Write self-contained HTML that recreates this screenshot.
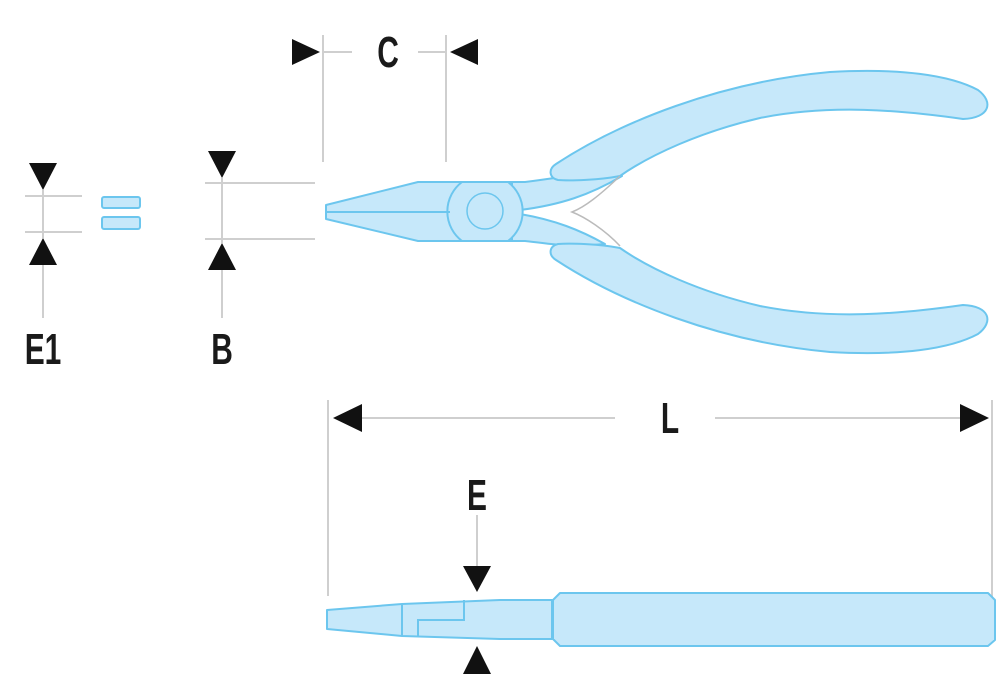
<!DOCTYPE html>
<html><head><style>
html,body{margin:0;padding:0;background:#fff;width:1000px;height:676px;overflow:hidden}
svg text{font-family:"Liberation Sans",sans-serif;font-size:44px;font-weight:bold;fill:#1a1a1a}
</style></head><body>
<svg width="1000" height="676" viewBox="0 0 1000 676" xmlns="http://www.w3.org/2000/svg">
<g stroke="#cfcfcf" stroke-width="2" fill="none">
<line x1="323" y1="35" x2="323" y2="162"/><line x1="446" y1="35" x2="446" y2="162"/>
<line x1="323" y1="52" x2="352" y2="52"/><line x1="418" y1="52" x2="446" y2="52"/>
<line x1="205" y1="183" x2="315" y2="183"/><line x1="205" y1="239" x2="315" y2="239"/>
<line x1="222" y1="178" x2="222" y2="243"/><line x1="222" y1="270" x2="222" y2="318"/>
<line x1="25" y1="196" x2="82" y2="196"/><line x1="25" y1="232" x2="82" y2="232"/>
<line x1="43" y1="190" x2="43" y2="238"/><line x1="43" y1="265" x2="43" y2="318"/>
<line x1="328" y1="400" x2="328" y2="596"/><line x1="992" y1="400" x2="992" y2="632"/>
<line x1="362" y1="418" x2="615" y2="418"/><line x1="715" y1="418" x2="960" y2="418"/>
<line x1="477" y1="515" x2="477" y2="566"/>
</g>
<g fill="#111">
<polygon points="292,39 320,52 292,65"/><polygon points="478,39 450,52 478,65"/>
<polygon points="208,151 236,151 222,178"/><polygon points="208,270 236,270 222,243"/>
<polygon points="29,163 57,163 43,190"/><polygon points="29,265 57,265 43,238"/>
<polygon points="362,404 362,432 333,418"/><polygon points="960,404 960,432 989,418"/>
<polygon points="463,566 491,566 477,592"/><polygon points="463,674 491,674 477,646"/>
</g>
<g transform="translate(388,67) scale(0.68,1)"><text text-anchor="middle" x="0" y="0">C</text></g>
<g transform="translate(222,364) scale(0.68,1)"><text text-anchor="middle" x="0" y="0">B</text></g>
<g transform="translate(43,364) scale(0.68,1)"><text text-anchor="middle" x="0" y="0">E1</text></g>
<g transform="translate(670,433) scale(0.68,1)"><text text-anchor="middle" x="0" y="0">L</text></g>
<g transform="translate(477,510) scale(0.68,1)"><text text-anchor="middle" x="0" y="0">E</text></g>

<g fill="#c6e8fa" stroke="#6cc6ee" stroke-width="2" stroke-linejoin="round">
<rect x="102" y="197" width="38" height="11" rx="2"/><rect x="102" y="217" width="38" height="12" rx="2"/>
<!-- necks -->
<path d="M505,182 L525,182 C545,180 560,176 580,176 L622,176 C590,195 560,205 520,210 L505,210 Z"/>
<path d="M505,241 L525,241 C545,243 560,246 580,246 L605,244 C580,230 555,220 520,214 L505,214 Z"/>
<!-- handles -->
<path d="M556,164 C620,122 720,82 830,72 C900,68 950,75 978,90 C994,102 990,118 963,119 C900,110 830,104 760,118 C700,132 650,155 620,176 C600,180 570,181 558,180 C549,178 548,169 556,164 Z"/>
<path d="M556,260 C620,302 720,342 830,352 C900,356 950,349 978,334 C994,322 990,306 963,305 C900,314 830,320 760,306 C700,292 650,269 620,248 C600,244 570,243 558,244 C549,246 548,255 556,260 Z"/>
<!-- jaw -->
<path d="M326,205 L418,182 L512,182 L512,241 L418,241 L326,219 Z"/>
<path d="M462,182 L508,182 A37,37 0 0 1 508,241 L462,241 A37,37 0 0 1 462,182 Z"/>
<circle cx="485" cy="211" r="18" stroke-width="1.5"/>
</g>
<line x1="327" y1="212" x2="450" y2="212" stroke="#6cc6ee" stroke-width="2"/>
<path d="M620,176 C600,195 585,207 572,212 C585,217 605,230 620,246" fill="none" stroke="#bbb" stroke-width="1.5"/>

<g fill="#c6e8fa" stroke="#6cc6ee" stroke-width="2" stroke-linejoin="round">
<path d="M327,610 L402,604 L500,600 L552,600 L552,639 L500,639 L402,636 L327,629 Z"/>
<path d="M560,593 L988,593 L995,600 L995,640 L988,646 L560,646 L553,639 L553,600 Z"/>
</g>
<g stroke="#6cc6ee" stroke-width="2" fill="none">
<line x1="402" y1="604" x2="402" y2="636"/>
<polyline points="418,636 418,620 464,620 464,600"/>
</g>
</svg>
</body></html>
